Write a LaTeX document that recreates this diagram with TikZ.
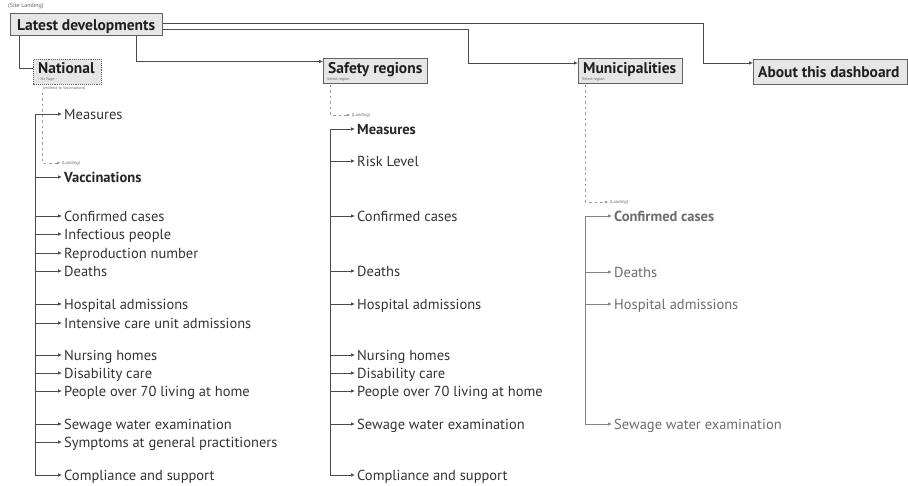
\documentclass[tikz,border=0pt]{standalone}
\usepackage{fontspec}
\setmainfont{PT Sans}
\usetikzlibrary{arrows.meta}
\definecolor{linec}{HTML}{4A4A4A}
\definecolor{mulinec}{HTML}{858585}
\definecolor{txt}{HTML}{333333}
\definecolor{mutxt}{HTML}{6C6C6C}
\definecolor{boxfill}{HTML}{E6E6E6}
\definecolor{boxline}{HTML}{626262}
\definecolor{dashc}{HTML}{9A9A9A}
\begin{document}
\begin{tikzpicture}[x=1pt,y=-1pt,
  boxshape/.style={draw=boxline, fill=boxfill, line width=1.1pt, inner sep=0pt, anchor=north west},
  title/.style={anchor=base west, inner sep=0pt, font=\bfseries\fontsize{15.5}{16}\selectfont, text=black!88},
  item/.style={anchor=west, inner xsep=2pt, inner ysep=0pt, text height=10.5pt, text depth=0pt, font=\fontsize{14.5}{15}\selectfont, text=txt},
  boldit/.style={item, font=\bfseries\fontsize{14.5}{15}\selectfont, text=black!85},
  muit/.style={item, text=mutxt},
  tinytxt/.style={anchor=west, inner sep=0pt, font=\fontsize{4.5}{5}\selectfont, text=black!60},
  conn/.style={draw=linec, line width=0.8pt},
  arr/.style={conn, -{Latex[length=4pt,width=3.6pt]}},
  muarr/.style={draw=mulinec, line width=0.8pt, -{Latex[length=4pt,width=3.6pt]}},
  dashconn/.style={draw=dashc, line width=0.8pt, dash pattern=on 2.5pt off 3pt, -{Latex[length=3.5pt,width=3pt]}}
]
\useasboundingbox (0,0) rectangle (908,486);

% ---- boxes ----
\node[boxshape, minimum width=152pt, minimum height=22pt] (ld) at (10,13) {};
\node[boxshape, minimum width=68pt, minimum height=25pt, densely dotted, line width=0.9pt] (nat) at (33,59) {};
\node[boxshape, minimum width=104pt, minimum height=25pt] (saf) at (323,58) {};
\node[boxshape, minimum width=104pt, minimum height=25pt] (mun) at (578,58) {};
\node[boxshape, minimum width=154pt, minimum height=25pt] (abt) at (753,59) {};

\node[title] (ldt) at (17,30.5) {Latest developments};
\node[title] (natt) at (38,74) {National};
\node[title] (saft) at (328,74) {Safety regions};
\node[title] (munt) at (583,73.5) {Municipalities};
\node[title] (abtt) at (758,78) {About this dashboard};

\node[tinytxt, font=\fontsize{6}{6}\selectfont] (site) at (8,6) {(Site Landing)};
\node[tinytxt, font=\fontsize{3.8}{4}\selectfont] (natsub) at (37,80) {-- No Page --};
\node[tinytxt, font=\fontsize{4}{4}\selectfont] (natred) at (43,89) {(redirect to Vaccinations)};
\node[tinytxt, font=\fontsize{4}{4}\selectfont] (safsub) at (327,79.5) {Select region};
\node[tinytxt, font=\fontsize{4}{4}\selectfont] (munsub) at (582,79.5) {Select region};

% ---- top-level connectors ----
\draw[conn] ([xshift=9pt]ld.south west) |- ([yshift=-9pt]nat.north west);
\draw[arr] ([xshift=-27pt]ld.south east) |- ([yshift=-3.5pt]saf.north west);
\draw[arr] ([yshift=-5pt]ld.east) -| ([xshift=-110pt,yshift=-5pt]mun.north west) -- ([yshift=-5pt]mun.north west);
\draw[arr] ([yshift=1pt]ld.east) -| ([xshift=-50pt,yshift=-4pt]abt.north west) -- ([yshift=-4pt]abt.north west);

% ---- National ----
\coordinate (nsp) at (35,0);
\coordinate (nd) at (42,93);
\node[tinytxt] (nland) at (62,163) {(Landing)};
\draw[dashconn] (nd) |- ([xshift=-1.5pt]nland.west);

\node[item]   (n1)  at (62,114) {Measures};
\node[boldit] (n2)  at (62,177) {Vaccinations};
\node[item]   (n3)  at (62,216) {Confirmed cases};
\node[item]   (n4)  at (62,234) {Infectious people};
\node[item]   (n5)  at (62,253) {Reproduction number};
\node[item]   (n6)  at (62,271) {Deaths};
\node[item]   (n7)  at (62,304) {Hospital admissions};
\node[item]   (n8)  at (62,323) {Intensive care unit admissions};
\node[item]   (n9)  at (62,355) {Nursing homes};
\node[item]   (n10) at (62,373) {Disability care};
\node[item]   (n11) at (62,391) {People over 70 living at home};
\node[item]   (n12) at (62,424) {Sewage water examination};
\node[item]   (n13) at (62,442) {Symptoms at general practitioners};
\node[item]   (n14) at (62,475) {Compliance and support};

\draw[conn] (nsp |- n1.west) -- (nsp |- n14.west);
\foreach \i in {1,...,13} \draw[arr] (nsp |- n\i.west) -- (n\i.west);
\draw[arr, line join=miter] (nsp |- n13.west) -- (nsp |- n14.west) -- (n14.west);

% ---- Safety regions ----
\coordinate (ssp) at (330,0);
\coordinate (sd) at (330,85);
\node[tinytxt] (sland) at (352,115) {(Landing)};
\draw[dashconn] (sd) |- ([xshift=-1.5pt]sland.west);

\node[boldit] (s1)  at (355,129) {Measures};
\node[item]   (s2)  at (355,161) {Risk Level};
\node[item]   (s3)  at (355,216) {Confirmed cases};
\node[item]   (s4)  at (355,271) {Deaths};
\node[item]   (s5)  at (355,304) {Hospital admissions};
\node[item]   (s6)  at (355,355) {Nursing homes};
\node[item]   (s7)  at (355,373) {Disability care};
\node[item]   (s8)  at (355,391) {People over 70 living at home};
\node[item]   (s9)  at (355,424) {Sewage water examination};
\node[item]   (s10) at (355,475) {Compliance and support};

\draw[conn] (ssp |- s1.west) -- (ssp |- s10.west);
\foreach \i in {1,...,9} \draw[arr] (ssp |- s\i.west) -- (s\i.west);
\draw[arr, line join=miter] (ssp |- s9.west) -- (ssp |- s10.west) -- (s10.west);

% ---- Municipalities ----
\coordinate (msp) at (585,0);
\coordinate (md) at (585,85);
\node[tinytxt] (mland) at (610,202) {(Landing)};
\draw[dashconn] (md) |- ([xshift=-1.5pt]mland.west);

\node[muit, font=\bfseries\fontsize{14.5}{15}\selectfont] (m1) at (612,216) {Confirmed cases};
\node[muit] (m2) at (612,272) {Deaths};
\node[muit] (m3) at (612,304) {Hospital admissions};
\node[muit] (m4) at (612,424) {Sewage water examination};

\draw[draw=mulinec, line width=0.8pt] (msp |- m1.west) -- (msp |- m4.west);
\foreach \i in {1,...,3} \draw[muarr] (msp |- m\i.west) -- (m\i.west);
\draw[muarr, line join=miter] (msp |- m3.west) -- (msp |- m4.west) -- (m4.west);
\end{tikzpicture}
\end{document}
